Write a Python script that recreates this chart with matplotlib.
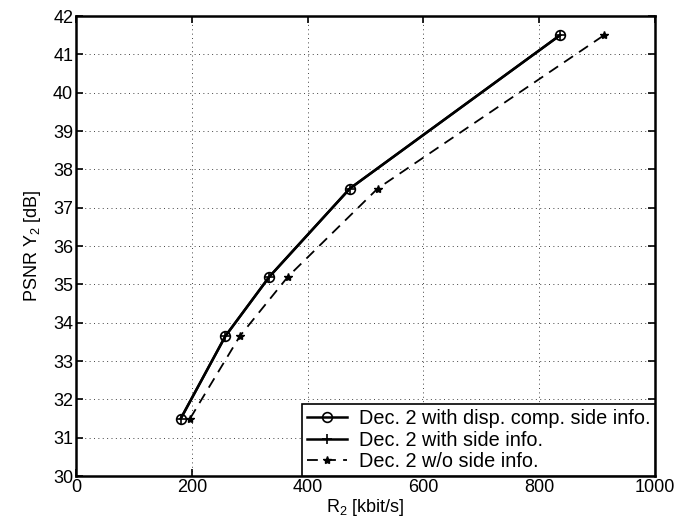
import matplotlib
matplotlib.use('Agg')
import matplotlib.pyplot as plt

# Rate in kbit/s, PSNR in dB
rate_disp = [181, 258, 334, 473, 836]
rate_side = [181, 258, 334, 473, 836]
rate_wo = [197, 283, 366, 521, 912]
psnr = [31.5, 33.65, 35.2, 37.5, 41.5]

labels = [
    'Dec. 2 with disp. comp. side info.',
    'Dec. 2 with side info.',
    'Dec. 2 w/o side info.',
]

plt.rcParams['font.family'] = ['Liberation Sans', 'DejaVu Sans']
plt.rcParams['mathtext.fontset'] = 'custom'
plt.rcParams['mathtext.rm'] = 'Liberation Sans'
plt.rcParams['mathtext.it'] = 'Liberation Sans:italic'
plt.rcParams['font.size'] = 13

fig = plt.figure(figsize=(6.93, 5.2), dpi=100)
ax = fig.add_axes([0.1097, 0.0846, 0.8355, 0.8846])

ax.plot(rate_disp, psnr, color='black', linewidth=1.8, marker='o',
        markersize=7, markerfacecolor='none', markeredgewidth=1.2, label=labels[0])
ax.plot(rate_side, psnr, color='black', linewidth=1.8, marker='+',
        markersize=7, markeredgewidth=1.2, label=labels[1])
ax.plot(rate_wo, psnr, color='black', linewidth=1.3, linestyle=(0, (6, 4)),
        marker='*', markersize=6, label=labels[2])

ax.set_xlim(0, 1000)
ax.set_ylim(30, 42)
ax.set_xticks(range(0, 1001, 200))
ax.set_yticks(range(30, 43))
ax.grid(True, linestyle=(0, (1, 3.5)), color='#444444', linewidth=0.7)
ax.tick_params(direction='in', top=True, right=True, length=5, width=1.2, pad=2)
for s in ax.spines.values():
    s.set_linewidth(1.8)

ax.set_xlabel('R$_2$ [kbit/s]', labelpad=1)
ax.set_ylabel('PSNR Y$_2$ [dB]', labelpad=7)

leg = ax.legend(loc='lower right', fancybox=False, edgecolor='black',
                framealpha=1, borderaxespad=0, handlelength=2.0,
                handletextpad=0.6, borderpad=0.25, labelspacing=0.12,
                fontsize=14.3)
leg.get_frame().set_linewidth(1.2)

fig.savefig('out.png', dpi=100)
